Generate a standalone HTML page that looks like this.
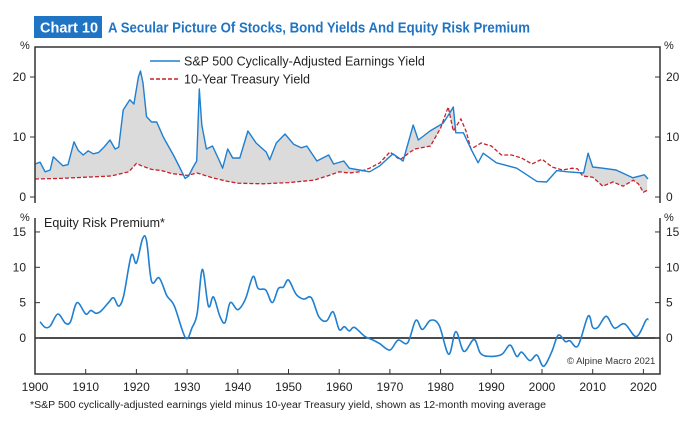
<!DOCTYPE html>
<html><head><meta charset="utf-8"><style>
html,body{margin:0;padding:0;background:#fff}
svg{display:block;font-family:"Liberation Sans",Arial,sans-serif}
</style></head><body>
<svg id="c" width="700" height="425" viewBox="0 0 700 425">
<rect x="34" y="16" width="68" height="22" fill="#1f74c4"/>
<text x="40" y="32.5" fill="#fff" font-weight="bold" font-size="14.5" font-family="'Liberation Sans Narrow','Liberation Sans',sans-serif">Chart 10</text>
<text x="108" y="32.5" fill="#1f74c4" font-weight="bold" font-size="14.5" textLength="422" lengthAdjust="spacingAndGlyphs" font-family="'Liberation Sans Narrow','Liberation Sans',sans-serif">A Secular Picture Of Stocks, Bond Yields And Equity Risk Premium</text>
<g id="topPanel"></g>
<g id="botPanel"></g>
<text x="30" y="408" font-size="10" fill="#222" textLength="516" lengthAdjust="spacingAndGlyphs">*S&amp;P 500 cyclically-adjusted earnings yield minus 10-year Treasury yield, shown as 12-month moving average</text>
</svg>
<script>
const capeYears=[1900,1901,1902,1903,1903.6,1904.5,1905.5,1906.5,1907.7,1908.5,1909.5,1910.5,1911.5,1912.5,1913.5,1914.8,1915.8,1916.5,1917.4,1918.7,1919.5,1920.4,1920.8,1921.3,1922,1923,1924,1925.3,1926.3,1927.3,1928.5,1929.6,1930.3,1931.2,1931.9,1932.4,1932.9,1933.8,1935,1936.4,1937,1938,1939,1940.4,1942,1943.6,1945.6,1946.3,1947.6,1949.3,1951,1952.5,1953.6,1955.6,1957.9,1958.9,1960.9,1962,1964,1966,1968,1970.6,1972.6,1974.6,1975.6,1977.9,1980.5,1981.8,1982.5,1983,1984.5,1986,1987.4,1988.4,1991,1995,1999,2000.9,2002.9,2005,2008.2,2009.1,2010,2012,2014.6,2017.9,2020.2,2020.9];
const capeVals=[5.5,5.8,4.2,4.5,6.7,6.0,5.2,5.4,9.2,7.8,7.0,7.7,7.2,7.4,8.2,9.5,8.0,8.3,14.5,16.2,15.5,20,21,19,13.4,12.5,12.5,10,8.5,7,5,3.1,3.5,5,6,18,12,8,8.5,6,4.8,8,6.5,6.5,11,9,7.5,6.2,9,10.5,8.8,8.2,8.5,6,7,5.5,6,4.8,4.5,4.2,5.2,7.2,6,12,9.5,11,12.3,14,15,10.7,10.7,8,5.7,7.3,5.7,4.8,2.6,2.5,4.4,4.2,4,7.3,5,4.8,4.5,3.2,3.7,3];
const tsyYears=[1900,1905,1910,1915,1917,1918.5,1920,1921,1923,1925,1927,1930,1932,1935,1938,1940,1945,1950,1955,1958,1960,1962,1964,1966,1968,1970,1972,1974,1975,1978,1980,1981.5,1982.5,1984,1985,1986,1987,1988,1990,1992,1994,1996,1998,2000,2002,2004,2006,2007,2008,2010,2012,2014,2016,2018,2019,2020,2021];
const tsyVals=[3,3.1,3.3,3.5,3.9,4.2,5.6,5.2,4.6,4.4,3.9,3.6,4,3.2,2.6,2.3,2.2,2.4,2.8,3.6,4.2,4,4.2,4.8,5.7,7.5,6.2,7.5,8,8.5,11.5,15,11,13,11,8,8.5,9,8.5,7,7,6.5,5.5,6.3,5,4.5,4.8,4.7,3.5,3.3,1.8,2.5,1.8,2.8,2.2,0.8,1.2];
const erpYears=[1901,1902,1903,1904.5,1906,1907,1908.3,1910,1911,1912,1913,1914.5,1915.5,1916.5,1917.5,1919,1920,1921.2,1922,1923,1924.5,1926,1927.5,1929.7,1931,1932,1933,1934.2,1935.2,1936.5,1937.5,1938.5,1940,1941.5,1943,1944,1945.5,1946.8,1948,1949,1950,1951.5,1953,1954.5,1956,1957.5,1958.8,1960,1961,1962,1963,1965.1,1966.7,1968,1970,1971.6,1973.5,1975.1,1976.4,1978,1979.7,1981.6,1983,1984.6,1986.6,1987.9,1989.8,1992.1,1993.7,1995,1996,1997.6,1999,2000.3,2001.9,2003.2,2004.6,2005.5,2007.1,2009.1,2010,2011,2012.3,2013,2014.3,2016.3,2018.6,2020.5,2021];
const erpVals=[2.3,1.5,1.7,3.4,2.1,2.3,5,3.4,3.9,3.5,3.8,5,5.7,4.5,6,11.7,10.6,14,13.8,8,8.5,6,4.5,0,1.5,3.5,9.7,4.5,5.8,3,2.2,5,4,5.5,8.7,7,6.8,5,7,7.2,8.2,6.2,5.5,5.7,3,2.4,3.7,1.2,1.6,1.0,1.5,0.2,-0.3,-0.8,-1.7,-0.3,-0.7,2.5,1.2,2.5,1.8,-2.3,0.9,-1.9,-0.2,-2.2,-2.6,-2.3,-1,-2.6,-2,-3.2,-2.4,-4,-2,0.4,-0.5,-0.4,-1.1,3.1,1.5,1.5,2.9,2.9,1.4,2,0.2,2.5,2.6];
const topTicks=[0,10,20];
const botTicks=[0,5,10,15];
const xTicks=[1900,1910,1920,1930,1940,1950,1960,1970,1980,1990,2000,2010,2020];

const NS='http://www.w3.org/2000/svg';
const X=y=>35+(y-1900)*5.07;
const Yt=v=>197-v*6;
const Yb=v=>338-v*7.07;
function mk(tag,attrs,parent,txt){const e=document.createElementNS(NS,tag);for(const k in attrs)e.setAttribute(k,attrs[k]);if(txt!==undefined)e.textContent=txt;parent.appendChild(e);return e;}
function interp(xs,vs,x){if(x<=xs[0])return vs[0];for(let i=1;i<xs.length;i++){if(x<=xs[i]){const t=(x-xs[i-1])/(xs[i]-xs[i-1]);return vs[i-1]+t*(vs[i]-vs[i-1]);}}return vs[vs.length-1];}
function lineD(xs,vs,fy){return xs.map((x,i)=>(i?'L':'M')+X(x).toFixed(1)+' '+fy(vs[i]).toFixed(1)).join(' ');}
function smoothD(xs,vs,fy){const p=xs.map((x,i)=>[X(x),fy(vs[i])]);let d='M'+p[0][0].toFixed(1)+' '+p[0][1].toFixed(1);for(let i=0;i<p.length-1;i++){const p0=p[Math.max(0,i-1)],p1=p[i],p2=p[i+1],p3=p[Math.min(p.length-1,i+2)];const c1=[p1[0]+(p2[0]-p0[0])/6,p1[1]+(p2[1]-p0[1])/6],c2=[p2[0]-(p3[0]-p1[0])/6,p2[1]-(p3[1]-p1[1])/6];d+=' C'+c1.map(v=>v.toFixed(1)).join(' ')+' '+c2.map(v=>v.toFixed(1)).join(' ')+' '+p2[0].toFixed(1)+' '+p2[1].toFixed(1);}return d;}

const tp=document.getElementById('topPanel');
let samp=[];for(let y=1900;y<=2020.9;y+=0.25)samp.push(y);
let up=samp.map(y=>Math.max(interp(capeYears,capeVals,y),interp(tsyYears,tsyVals,y)));
let lo=samp.map(y=>interp(tsyYears,tsyVals,y));
let dA=samp.map((y,i)=>(i?'L':'M')+X(y).toFixed(1)+' '+Yt(up[i]).toFixed(1)).join(' ')+' '+samp.slice().reverse().map((y,i)=>'L'+X(y).toFixed(1)+' '+Yt(lo[samp.length-1-i]).toFixed(1)).join(' ')+'Z';
const sh=mk('path',{d:dA,fill:'#dcdbdc',stroke:'none'},tp);


const rl=mk('path',{d:lineD(tsyYears,tsyVals,Yt),fill:'none',stroke:'#c8202a','stroke-width':1.3,'stroke-dasharray':'4 2'},tp);


const bl=mk('path',{d:lineD(capeYears,capeVals,Yt),fill:'none',stroke:'#1f7fd0','stroke-width':1.4,'stroke-linejoin':'round'},tp);


mk('path',{d:'M35 203 V47 H660 V203',fill:'none',stroke:'#333','stroke-width':1.5},tp);
topTicks.forEach(v=>{
 mk('line',{x1:30,x2:35,y1:Yt(v),y2:Yt(v),stroke:'#333'},tp);
 mk('line',{x1:655,x2:660,y1:Yt(v),y2:Yt(v),stroke:'#333'},tp);
 const a=mk('text',{x:26,y:Yt(v)+4,'text-anchor':'end','font-size':12,fill:'#222'},tp,String(v));
 
 
 const b=mk('text',{x:666,y:Yt(v)+4,'font-size':12,fill:'#222'},tp,String(v));
 
 
});
mk('text',{x:20,y:49,'font-size':11,fill:'#222'},tp,'%');
mk('text',{x:664,y:49,'font-size':11,fill:'#222'},tp,'%');
const lg=mk('g',{},tp);


mk('line',{x1:150,x2:180,y1:61,y2:61,stroke:'#1f7fd0','stroke-width':1.5},lg);
mk('text',{x:184,y:65.5,'font-size':12.5,fill:'#222'},lg,'S&P 500 Cyclically-Adjusted Earnings Yield');
mk('line',{x1:150,x2:180,y1:79,y2:79,stroke:'#c8202a','stroke-width':1.4,'stroke-dasharray':'4 2'},lg);
mk('text',{x:184,y:83.5,'font-size':12.5,fill:'#222'},lg,'10-Year Treasury Yield');

const bot=document.getElementById('botPanel');
mk('path',{d:'M35 218 V374 H660 V218',fill:'none',stroke:'#333','stroke-width':1.5},bot);
mk('line',{x1:35,x2:660,y1:Yb(0),y2:Yb(0),stroke:'#111','stroke-width':1.5},bot);
botTicks.forEach(v=>{
 mk('line',{x1:35,x2:40,y1:Yb(v),y2:Yb(v),stroke:'#333'},bot);
 mk('line',{x1:655,x2:660,y1:Yb(v),y2:Yb(v),stroke:'#333'},bot);
 const a=mk('text',{x:26,y:Yb(v)+4,'text-anchor':'end','font-size':12,fill:'#222'},bot,String(v));
 
 
 const b=mk('text',{x:666,y:Yb(v)+4,'font-size':12,fill:'#222'},bot,String(v));
 
 
});
xTicks.forEach(y=>{
 mk('line',{x1:X(y),x2:X(y),y1:369,y2:374,stroke:'#333'},bot);
 const t=mk('text',{x:X(y),y:391,'text-anchor':'middle','font-size':12,fill:'#222'},bot,String(y));
 
 
});
mk('text',{x:20,y:221,'font-size':11,fill:'#222'},bot,'%');
mk('text',{x:664,y:221,'font-size':11,fill:'#222'},bot,'%');
const et=mk('text',{x:44,y:227,'font-size':12.5,fill:'#222'},bot,'Equity Risk Premium*');


const el=mk('path',{d:smoothD(erpYears,erpVals,Yb),fill:'none',stroke:'#1f7fd0','stroke-width':1.6},bot);


const cp=mk('text',{x:567,y:364,'font-size':9.5,fill:'#333'},bot,'© Alpine Macro 2021');


</script>
</body></html>
